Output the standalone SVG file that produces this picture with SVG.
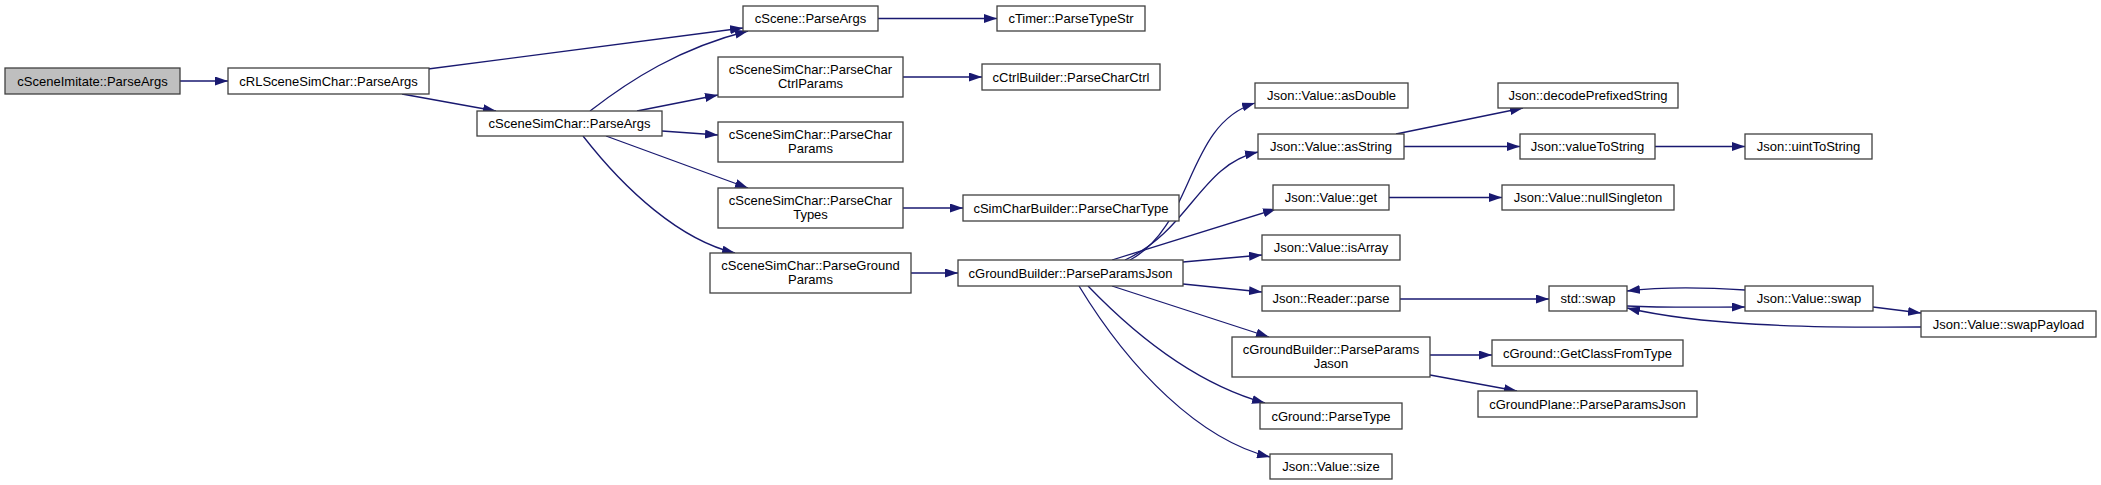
<svg xmlns="http://www.w3.org/2000/svg" width="2101" height="485" viewBox="0 0 2101 485">
<style>
.n rect{fill:#ffffff;stroke:#404040;stroke-width:1.3}
.n.root rect{fill:#bfbfbf}
.n text{font-family:"Liberation Sans",Arial,sans-serif;font-size:13px;fill:#000;text-anchor:middle}
#edges path{fill:none;stroke:#191970;stroke-width:1.3;marker-end:url(#ah)}
</style>
<defs>
<marker id="ah" markerUnits="userSpaceOnUse" markerWidth="13" markerHeight="9" refX="13" refY="4.5" orient="auto">
<path d="M0,0 L13,4.5 L0,9 z" fill="#191970"/>
</marker>
</defs>
<rect width="2101" height="485" fill="#ffffff"/>
<g id="edges">
<path d="M180,81 L228,81"/>
<path d="M428,69 L743,28"/>
<path d="M402,94 L496,111"/>
<path d="M590,111 C630,80 680,48 748,31"/>
<path d="M637,111 L718,95"/>
<path d="M662,131 L718,135"/>
<path d="M606,136 L748,188"/>
<path d="M583,136 C625,190 680,240 735,253"/>
<path d="M878,18.5 L997,18.5"/>
<path d="M903,77 L982,77"/>
<path d="M903,208 L963,208"/>
<path d="M911,273 L958,273"/>
<path d="M1130,260 C1195,225 1185,125 1255,103"/>
<path d="M1125,260 C1190,230 1200,165 1258,152"/>
<path d="M1112,260 L1276,209"/>
<path d="M1183,262 L1262,255"/>
<path d="M1183,284 L1262,292"/>
<path d="M1112,286 L1269,337"/>
<path d="M1088,286 C1140,340 1200,385 1265,403"/>
<path d="M1079,286 C1130,370 1200,440 1270,457"/>
<path d="M1396,134 L1523,108"/>
<path d="M1404,146.5 L1520,146.5"/>
<path d="M1655,146.5 L1745,146.5"/>
<path d="M1389,197.5 L1502,197.5"/>
<path d="M1400,299 L1549,299"/>
<path d="M1745,290 C1700,287 1660,287 1627,291"/>
<path d="M1627,306 C1670,308 1710,307 1745,307"/>
<path d="M1873,307 L1921,313"/>
<path d="M1921,327 C1800,328 1700,325 1627,308"/>
<path d="M1430,355 L1492,355"/>
<path d="M1430,375 L1517,391"/>
</g>
<g id="n0" class="n root"><rect x="5" y="68" width="175" height="26"/><text x="92.5" y="85.5">cSceneImitate::ParseArgs</text></g>
<g id="n1" class="n"><rect x="228" y="68" width="201" height="26"/><text x="328.5" y="85.5">cRLSceneSimChar::ParseArgs</text></g>
<g id="n2" class="n"><rect x="477" y="111" width="185" height="25"/><text x="569.5" y="128">cSceneSimChar::ParseArgs</text></g>
<g id="n3" class="n"><rect x="743" y="6" width="135" height="25"/><text x="810.5" y="23">cScene::ParseArgs</text></g>
<g id="n4" class="n"><rect x="997" y="6" width="148" height="25"/><text x="1071" y="23">cTimer::ParseTypeStr</text></g>
<g id="n5" class="n"><rect x="718" y="57" width="185" height="40"/><text x="810.5" y="73.5">cSceneSimChar::ParseChar</text><text x="810.5" y="87.5">CtrlParams</text></g>
<g id="n6" class="n"><rect x="982" y="64" width="178" height="26"/><text x="1071" y="81.5">cCtrlBuilder::ParseCharCtrl</text></g>
<g id="n7" class="n"><rect x="718" y="122" width="185" height="40"/><text x="810.5" y="138.5">cSceneSimChar::ParseChar</text><text x="810.5" y="152.5">Params</text></g>
<g id="n8" class="n"><rect x="718" y="188" width="185" height="40"/><text x="810.5" y="204.5">cSceneSimChar::ParseChar</text><text x="810.5" y="218.5">Types</text></g>
<g id="n9" class="n"><rect x="963" y="195" width="216" height="26"/><text x="1071" y="212.5">cSimCharBuilder::ParseCharType</text></g>
<g id="n10" class="n"><rect x="710" y="253" width="201" height="40"/><text x="810.5" y="269.5">cSceneSimChar::ParseGround</text><text x="810.5" y="283.5">Params</text></g>
<g id="n11" class="n"><rect x="958" y="260" width="225" height="26"/><text x="1070.5" y="277.5">cGroundBuilder::ParseParamsJson</text></g>
<g id="n12" class="n"><rect x="1255" y="83" width="153" height="25"/><text x="1331.5" y="100">Json::Value::asDouble</text></g>
<g id="n13" class="n"><rect x="1258" y="134" width="146" height="25"/><text x="1331" y="151">Json::Value::asString</text></g>
<g id="n14" class="n"><rect x="1273" y="185" width="116" height="25"/><text x="1331" y="202">Json::Value::get</text></g>
<g id="n15" class="n"><rect x="1262" y="235" width="138" height="25"/><text x="1331" y="252">Json::Value::isArray</text></g>
<g id="n16" class="n"><rect x="1262" y="286" width="138" height="25"/><text x="1331" y="303">Json::Reader::parse</text></g>
<g id="n17" class="n"><rect x="1232" y="337" width="198" height="40"/><text x="1331" y="353.5">cGroundBuilder::ParseParams</text><text x="1331" y="367.5">Jason</text></g>
<g id="n18" class="n"><rect x="1260" y="403" width="142" height="26"/><text x="1331" y="420.5">cGround::ParseType</text></g>
<g id="n19" class="n"><rect x="1270" y="454" width="122" height="25"/><text x="1331" y="471">Json::Value::size</text></g>
<g id="n20" class="n"><rect x="1498" y="83" width="180" height="25"/><text x="1588" y="100">Json::decodePrefixedString</text></g>
<g id="n21" class="n"><rect x="1520" y="134" width="135" height="25"/><text x="1587.5" y="151">Json::valueToString</text></g>
<g id="n22" class="n"><rect x="1745" y="134" width="127" height="25"/><text x="1808.5" y="151">Json::uintToString</text></g>
<g id="n23" class="n"><rect x="1502" y="185" width="172" height="25"/><text x="1588" y="202">Json::Value::nullSingleton</text></g>
<g id="n24" class="n"><rect x="1549" y="286" width="78" height="25"/><text x="1588" y="303">std::swap</text></g>
<g id="n25" class="n"><rect x="1745" y="286" width="128" height="25"/><text x="1809" y="303">Json::Value::swap</text></g>
<g id="n26" class="n"><rect x="1921" y="311" width="175" height="26"/><text x="2008.5" y="328.5">Json::Value::swapPayload</text></g>
<g id="n27" class="n"><rect x="1492" y="340" width="191" height="26"/><text x="1587.5" y="357.5">cGround::GetClassFromType</text></g>
<g id="n28" class="n"><rect x="1478" y="391" width="219" height="26"/><text x="1587.5" y="408.5">cGroundPlane::ParseParamsJson</text></g>
</svg>
